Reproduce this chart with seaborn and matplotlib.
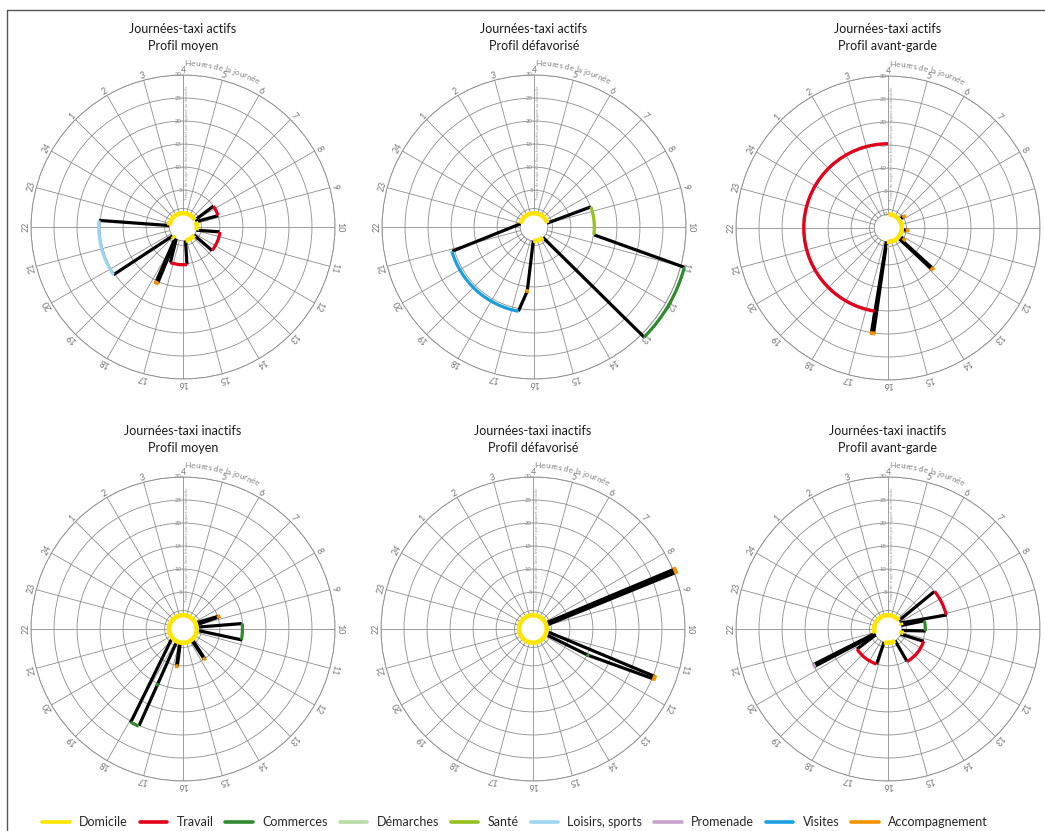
import numpy as np
import pandas as pd
import matplotlib
matplotlib.use("Agg")
import matplotlib.pyplot as plt
import seaborn as sns
from matplotlib.lines import Line2D
from matplotlib.textpath import TextToPath
from matplotlib.font_manager import FontProperties

# ---------------- data ----------------
ACTIVITIES = ["Domicile", "Travail", "Commerces", "Démarches", "Santé",
              "Loisirs, sports", "Promenade", "Visites", "Accompagnement"]
ACT_COLORS = ["#FFE500", "#E2001A", "#2E8B2E", "#B8DBA6", "#95C11F",
              "#9DD4F2", "#C7A3CC", "#1A9FE0", "#F39200"]

HOURS = list(range(4, 28))
HOUR_LABELS = [str(h if h <= 24 else h - 24) for h in HOURS]
R_TICKS = [0, 5, 10, 15, 20, 25, 30]
R_GRID = [1, 5, 10, 15, 20, 25, 30]

TITLES = [
    ("Journées-taxi actifs", "Profil moyen"),
    ("Journées-taxi actifs", "Profil défavorisé"),
    ("Journées-taxi actifs", "Profil avant-garde"),
    ("Journées-taxi inactifs", "Profil moyen"),
    ("Journées-taxi inactifs", "Profil défavorisé"),
    ("Journées-taxi inactifs", "Profil avant-garde"),
]

# home periods (start hour, end hour) at r = 0
P1_HOME = [(22.4, 32.0), (8.5, 10.9), (12.4, 15.3), (18.4, 19.3)]
P2_HOME = [(22.9, 32.9), (13.3, 16.2)]
P3_HOME = [(4.1, 16.3)]
P4_HOME = [(4.0, 28.0)]
P5_HOME = [(4.0, 28.0)]
P6_HOME = [(20.8, 31.5), (8.3, 9.0), (10.4, 11.5), (13.9, 17.1)]

# trips: (hour from, minutes from, hour to, minutes to)
P1_TRIPS = [(8.0, 0, 7.7, 5.0), (8.8, 5.0, 8.5, 0), (10.9, 0, 10.5, 5.0),
            (12.6, 5.1, 12.4, 0), (15.3, 0, 15.6, 5.2), (17.3, 5.2, 17.95, 0),
            (18.05, 0, 17.62, 10.4), (18.2, 0, 17.68, 10.4), (18.35, 0, 17.74, 10.4),
            (19.3, 0, 19.7, 15.3), (22.3, 15.3, 22.4, 0)]
P2_TRIPS = [(8.9, 0, 8.7, 10.1), (10.5, 10.2, 11.0, 30.8), (13.0, 30.8, 13.3, 0),
            (16.2, 0, 16.4, 11.0), (16.4, 11.0, 16.7, 15.6), (20.9, 15.5, 22.9, 0)]
P3_TRIPS = [(7.45, 0, 7.6, 1.3), (10.4, 0, 10.5, 1.3), (12.3, 0, 12.4, 1.3),
            (12.75, 0, 12.8, 10.1), (12.95, 0, 12.88, 10.1),
            (16.35, 0, 16.52, 20.1), (16.45, 0, 16.6, 20.1), (16.56, 20.1, 16.6, 15.3)]
P4_TRIPS = [(8.3, 0, 8.68, 5.2), (8.85, 0, 8.75, 5.2), (9.5, 0, 9.65, 9.8),
            (10.7, 10.1, 10.35, 0), (13.25, 0, 13.58, 5.0), (13.45, 0, 13.65, 5.0),
            (16.75, 0, 16.58, 5.2), (16.9, 0, 16.66, 5.2),
            (19.4, 0, 17.95, 20.3), (17.63, 20.1, 17.77, 0)]
P5_TRIPS = [(8.35, 0, 8.47, 30.4), (8.55, 0, 8.5, 30.4), (8.75, 0, 8.53, 30.4),
            (8.95, 0, 8.56, 30.4), (10.66, 0, 11.42, 25.4),
            (11.53, 0, 11.7, 10.2), (11.7, 10.2, 11.5, 25.4)]
P6_TRIPS = [(7.5, 0, 7.4, 9.9), (9.1, 10.1, 8.3, 0), (9.0, 0, 9.15, 5.1),
            (10.2, 5.2, 10.4, 0), (11.5, 0, 11.27, 5.2), (13.97, 5.1, 13.9, 0),
            (17.1, 0, 17.2, 5.0), (19.8, 5.0, 20.3, 0),
            (20.45, 0, 20.2, 14.9), (20.6, 0, 20.25, 14.9), (20.75, 0, 20.3, 14.9)]

# stays: (activity, minutes from home, hour start, hour end)
P1_STAYS = [("Travail", 5.0, 7.7, 8.8), ("Travail", 5.1, 10.5, 12.6),
            ("Travail", 5.2, 15.6, 17.3), ("Accompagnement", 10.4, 17.55, 17.85),
            ("Loisirs, sports", 15.3, 19.7, 22.3)]
P2_STAYS = [("Santé", 10.1, 8.7, 10.5), ("Commerces", 30.8, 11.0, 13.0),
            ("Accompagnement", 11.0, 16.3, 16.5), ("Visites", 15.6, 16.7, 20.9)]
P3_STAYS = [("Accompagnement", 1.3, 7.3, 7.9), ("Accompagnement", 1.3, 10.2, 10.8),
            ("Accompagnement", 1.3, 12.1, 12.7), ("Accompagnement", 10.1, 12.7, 12.98),
            ("Accompagnement", 20.1, 16.47, 16.65), ("Travail", 15.3, 16.6, 28.0),
            ("Démarches", 1.0, 15.8, 16.2)]
P4_STAYS = [("Accompagnement", 5.2, 8.55, 8.9), ("Commerces", 9.9, 9.65, 10.7),
            ("Accompagnement", 5.0, 13.45, 13.8), ("Accompagnement", 5.2, 16.45, 16.8),
            ("Commerces", 10.3, 17.52, 17.76), ("Commerces", 20.2, 17.63, 17.95)]
P5_STAYS = [("Accompagnement", 30.4, 8.42, 8.6), ("Accompagnement", 25.4, 11.38, 11.55),
            ("Commerces", 10.2, 11.62, 11.8)]
P6_STAYS = [("Travail", 10.0, 7.4, 9.1), ("Commerces", 5.1, 9.15, 10.2),
            ("Travail", 5.2, 11.27, 13.97), ("Travail", 5.0, 17.2, 19.8),
            ("Promenade", 14.9, 20.15, 20.35)]

PANELS = [(P1_HOME, P1_TRIPS, P1_STAYS), (P2_HOME, P2_TRIPS, P2_STAYS),
          (P3_HOME, P3_TRIPS, P3_STAYS), (P4_HOME, P4_TRIPS, P4_STAYS),
          (P5_HOME, P5_TRIPS, P5_STAYS), (P6_HOME, P6_TRIPS, P6_STAYS)]

# ---------------- layout ----------------
W, H = 1045, 831
CENTERS = [(183, 227), (534, 227), (888, 228), (183, 629), (533, 629), (888, 629)]
RAD_PX = 152
GRID_C = "#8e8e8e"
LABEL_C = "#777777"

sns.set_theme(style="white")
plt.rcParams["font.family"] = ["Lato", "DejaVu Sans"]

color_of = dict(zip(ACTIVITIES, ACT_COLORS))


def th(h):
    return np.deg2rad((np.asarray(h, dtype=float) - 4.0) * 15.0)


t2p = TextToPath()


def text_w(s, prop):
    if not s:
        return 0.0
    w, _, _ = t2p.get_text_width_height_descent(s, prop, ismath=False)
    return w * 100.0 / 72.0


def curved_text(ax, s, start_deg, radius, fontsize, color):
    prop = FontProperties(family="Lato", size=fontsize)
    bar_w = text_w("|", prop)
    rad_px = radius * 2 * RAD_PX
    for i, ch in enumerate(s):
        if ch == " ":
            continue
        left = text_w(s[:i] + "|", prop) - bar_w if i > 0 else 0.0
        off = left + text_w(ch, prop) / 2
        ang = np.deg2rad(start_deg) + off / rad_px
        ax.text(0.5 + radius * np.sin(ang), 0.5 + radius * np.cos(ang), ch,
                transform=ax.transAxes, rotation=-np.rad2deg(ang),
                rotation_mode="anchor", ha="center", va="baseline",
                fontsize=fontsize, color=color, clip_on=False)


fig = plt.figure(figsize=(W / 100, H / 100), dpi=100)

for k, ((home, trips, stays), (cx, cy)) in enumerate(zip(PANELS, CENTERS)):
    ax = fig.add_axes([(cx - RAD_PX) / W, (H - cy - RAD_PX) / H,
                       2 * RAD_PX / W, 2 * RAD_PX / H], projection="polar")
    ax.set_facecolor("white")
    ax.set_axisbelow(True)

    # trips (black lines) with seaborn
    rows = []
    for i, (h0, r0, h1, r1) in enumerate(trips):
        rows.append({"trip": i, "step": 0, "theta": float(th(h0)), "r": r0})
        rows.append({"trip": i, "step": 1, "theta": float(th(h1)), "r": r1})
    df = pd.DataFrame(rows)
    sns.lineplot(data=df, x="theta", y="r", units="trip", estimator=None,
                 sort=False, color="black", linewidth=2.3, ax=ax, legend=False,
                 solid_capstyle="butt", zorder=3, clip_on=False)

    # stays (coloured arcs)
    for act, r, h0, h1 in stays:
        thick = 0.7 if act != "Accompagnement" else 0.85
        ax.bar(th((h0 + h1) / 2), thick, width=th(h1) - th(h0), bottom=r - thick / 2,
               color=color_of[act], linewidth=0, zorder=4, clip_on=False)

    # home (yellow circle at r = 0)
    for h0, h1 in home:
        ax.bar(th((h0 + h1) / 2), 1.0, width=th(h1) - th(h0), bottom=-0.5,
               color=color_of["Domicile"], linewidth=0, zorder=5, clip_on=False)

    ax.set_theta_zero_location("N")
    ax.set_theta_direction(-1)
    ax.set_ylim(0, 30)
    ax.set_rorigin(-3)
    ax.set_thetagrids(np.arange(0, 360, 15), labels=[""] * 24)
    ax.set_rgrids(R_GRID, labels=[""] * len(R_GRID))
    ax.grid(True, color=GRID_C, linewidth=0.6)
    for sp in ax.spines.values():
        sp.set_color(GRID_C)
        sp.set_linewidth(0.65)
    ax.set_xlabel("")
    ax.set_ylabel("")

    # hour labels (those falling past the right edge are cut off in the original)
    for h, lbl in zip(HOURS, HOUR_LABELS):
        a = th(h)
        if cx + 157 * np.sin(a) > W - 8:
            continue
        ax.text(a, 31.0, lbl, rotation=-(h - 4) * 15, rotation_mode="anchor",
                ha="center", va="center", fontsize=6.4, color=LABEL_C, clip_on=False)
    # radial labels
    for r in R_TICKS:
        ax.annotate(str(r), xy=(0, r), xytext=(-0.8, 0), textcoords="offset points",
                    ha="right", va="center", fontsize=4.3, color="#8a8a8a",
                    annotation_clip=False)
    ax.text(0.5 + 3.6 / (2 * RAD_PX), 0.5 + (15.2 + 3) / 33 * 0.5,
            "Temps de trajet des lieux fréquentés par rapport au domicile",
            transform=ax.transAxes, rotation=90, ha="center", va="center",
            fontsize=3.2, color="#999999")
    curved_text(ax, "Heures de la journée", 0.6, 161 / (2 * RAD_PX), 6.0, "#808080")

    t1, t2 = TITLES[k]
    ytop = 29 if k < 3 else 431
    fig.text(cx / W, 1 - ytop / H, t1, ha="center", va="center", fontsize=9, color="#1a1a1a")
    fig.text(cx / W, 1 - (ytop + 16.5) / H, t2, ha="center", va="center", fontsize=9, color="#1a1a1a")

# legend
handles = [Line2D([0], [0], color=c, lw=2.6) for c in ACT_COLORS]
fig.legend(handles, ACTIVITIES, ncol=9, loc="center", frameon=False,
           bbox_to_anchor=(515 / W, 1 - 822 / H), fontsize=9,
           handlelength=2.2, handletextpad=0.75, columnspacing=0.95)

# frame lines
fig.add_artist(Line2D([7 / W, 1.0], [1 - 10 / H, 1 - 10 / H], transform=fig.transFigure,
                      color="#555555", lw=1.0))
fig.add_artist(Line2D([7 / W, 7 / W], [1 - 10 / H, 0.0], transform=fig.transFigure,
                      color="#555555", lw=1.0))

fig.savefig("out.png", dpi=100, facecolor="white")
